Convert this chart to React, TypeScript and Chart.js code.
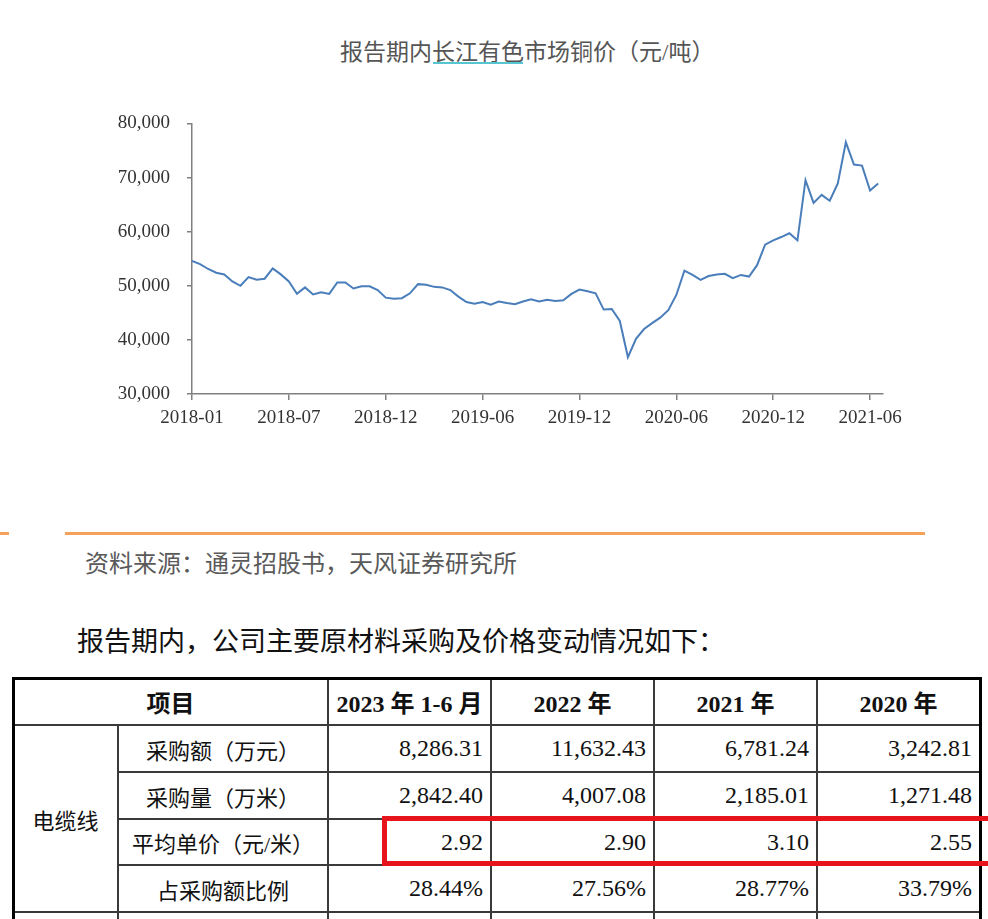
import React, { useEffect, useRef } from "react";
import { Chart, registerables } from "chart.js";

Chart.register(...registerables);

// ---------------- data ----------------
const chartTitle = "报告期内长江有色市场铜价（元/吨）";
const xTickLabels = ["2018-01", "2018-07", "2018-12", "2019-06", "2019-12", "2020-06", "2020-12", "2021-06"];
const pointsPerTick = 12;
const copperPrice = [
  54600, 54000, 53100, 52400, 52100, 50800, 50000, 51600, 51100, 51300,
  53200, 52100, 50800, 48500, 49700, 48400, 48800, 48500, 50600, 50600,
  49500, 49900, 49900, 49200, 47800, 47600, 47700, 48600, 50300, 50200,
  49800, 49700, 49200, 48000, 47000, 46700, 47000, 46500, 47100, 46800,
  46600, 47100, 47500, 47100, 47400, 47200, 47300, 48500, 49300, 49000,
  48600, 45600, 45700, 43500, 36800, 40200, 42000, 43100, 44100, 45500,
  48300, 52800, 52000, 51100, 51800, 52100, 52200, 51400, 52000, 51700,
  53800, 57600, 58400, 59000, 59700, 58400, 69500, 65300, 66800, 65700,
  68900, 76500, 72400, 72200, 67600, 68900,
];
const yMin = 30000;
const yMax = 80000;
const yStep = 10000;

const sourceText = "资料来源：通灵招股书，天风证券研究所";
const bodyText = "报告期内，公司主要原材料采购及价格变动情况如下：";

const tableHeader = ["项目", "2023 年 1-6 月", "2022 年", "2021 年", "2020 年"];
const groupLabel = "电缆线";
const rowLabels = ["采购额（万元）", "采购量（万米）", "平均单价（元/米）", "占采购额比例"];
const purchaseAmount = ["8,286.31", "11,632.43", "6,781.24", "3,242.81"];
const purchaseQty = ["2,842.40", "4,007.08", "2,185.01", "1,271.48"];
const unitPrice = ["2.92", "2.90", "3.10", "2.55"];
const shareRatio = ["28.44%", "27.56%", "28.77%", "33.79%"];

// ---------------- layout ----------------
const axisColor = "#808080";
const tickFont = { family: "'Liberation Serif', 'DejaVu Serif', serif", size: 19 };
const cjk = "'Liberation Serif', 'Noto Sans CJK SC', serif";

const colX = [13, 118, 328, 491, 654, 817, 980];
const rowY = [678, 725, 772, 819, 865, 912, 960];

function CopperChart() {
  const ref = useRef<HTMLCanvasElement | null>(null);
  useEffect(() => {
    if (!ref.current) return;
    const chart = new Chart(ref.current, {
      type: "line",
      data: {
        datasets: [
          {
            data: copperPrice.map((v, i) => ({ x: i, y: v })),
            borderColor: "#4a7ebb",
            borderWidth: 2,
            pointRadius: 0,
            tension: 0,
            fill: false,
          },
        ],
      },
      options: {
        animation: false,
        responsive: false,
        maintainAspectRatio: false,
        layout: { padding: { top: 19, right: 37, bottom: 0, left: 0 } },
        plugins: { legend: { display: false }, tooltip: { enabled: false }, title: { display: false } },
        scales: {
          x: {
            type: "linear",
            min: 0,
            max: 85.6,
            afterFit: (s: any) => {
              s.height = 41;
            },
            ticks: {
              stepSize: pointsPerTick,
              includeBounds: false,
              autoSkip: false,
              maxRotation: 0,
              padding: 7,
              color: "#333",
              font: tickFont,
              callback: (v: any) => xTickLabels[Math.round(Number(v) / pointsPerTick)] ?? "",
            },
            grid: { display: true, drawOnChartArea: false, drawTicks: true, tickLength: 6, color: axisColor, lineWidth: 1.5 },
            border: { display: true, color: axisColor, width: 1.5 },
          },
          y: {
            min: yMin,
            max: yMax,
            afterFit: (s: any) => {
              s.width = 192;
            },
            ticks: {
              stepSize: yStep,
              padding: 17,
              color: "#333",
              font: tickFont,
              callback: (v: any) => Number(v).toLocaleString("en-US"),
            },
            grid: { display: true, drawOnChartArea: false, drawTicks: true, tickLength: 5, color: axisColor, lineWidth: 1.5 },
            border: { display: true, color: axisColor, width: 1.5 },
          },
        },
      },
    } as any);
    return () => chart.destroy();
  }, []);
  return <canvas ref={ref} width={920} height={340} style={{ position: "absolute", left: 0, top: 95 }} />;
}

function Line({ x, y, w, h, c = "#333" }: { x: number; y: number; w: number; h: number; c?: string }) {
  return <div style={{ position: "absolute", left: x, top: y, width: w, height: h, background: c }} />;
}

function Cell({
  x1, x2, y1, y2, text, align = "center", bold = false, size = 24,
}: { x1: number; x2: number; y1: number; y2: number; text: string; align?: string; bold?: boolean; size?: number }) {
  return (
    <div
      style={{
        position: "absolute",
        left: x1,
        top: y1,
        width: x2 - x1,
        height: y2 - y1,
        display: "flex",
        alignItems: "center",
        justifyContent: align === "right" ? "flex-end" : "center",
        paddingRight: align === "right" ? 8 : 0,
        boxSizing: "border-box",
        fontFamily: cjk,
        fontSize: size,
        fontWeight: bold ? 700 : 400,
        color: "#111",
        whiteSpace: "nowrap",
      }}
    >
      {text}
    </div>
  );
}

function PurchaseTable() {
  const rows = [purchaseAmount, purchaseQty, unitPrice, shareRatio];
  const inner = "#3a3a3a";
  const bottom = 919;
  const els: React.ReactNode[] = [];
  // header
  els.push(<Cell key="h0" x1={colX[0]} x2={colX[2]} y1={rowY[0]} y2={rowY[1]} text={tableHeader[0]} bold />);
  for (let c = 1; c < tableHeader.length; c++) {
    els.push(<Cell key={"h" + c} x1={colX[c + 1]} x2={colX[c + 2]} y1={rowY[0]} y2={rowY[1]} text={tableHeader[c]} bold />);
  }
  els.push(<Cell key="g" x1={colX[0]} x2={colX[1]} y1={rowY[1]} y2={rowY[5]} text={groupLabel} size={22} />);
  rows.forEach((vals, r) => {
    els.push(<Cell key={"l" + r} x1={colX[1]} x2={colX[2]} y1={rowY[r + 1]} y2={rowY[r + 2]} text={rowLabels[r]} size={22} />);
    vals.forEach((v, c) => {
      els.push(
        <Cell key={"v" + r + c} x1={colX[c + 2]} x2={colX[c + 3]} y1={rowY[r + 1]} y2={rowY[r + 2]} text={v} align="right" />
      );
    });
  });
  // lines
  const lines: React.ReactNode[] = [];
  lines.push(<Line key="hl1" x={colX[0]} y={rowY[1] - 0.75} w={colX[6] - colX[0]} h={1.5} c={inner} />);
  for (let r = 2; r <= 4; r++) {
    lines.push(<Line key={"hl" + r} x={colX[1]} y={rowY[r] - 0.75} w={colX[6] - colX[1]} h={1.5} c={inner} />);
  }
  lines.push(<Line key="hl5" x={colX[0]} y={rowY[5] - 0.75} w={colX[6] - colX[0]} h={1.5} c={inner} />);
  lines.push(<Line key="vl1" x={colX[1] - 0.75} y={rowY[1]} w={1.5} h={bottom - rowY[1]} c={inner} />);
  for (let c = 2; c <= 5; c++) {
    lines.push(<Line key={"vl" + c} x={colX[c] - 0.75} y={rowY[0]} w={1.5} h={bottom - rowY[0]} c={inner} />);
  }
  // outer border
  lines.push(<Line key="top" x={colX[0] - 1.5} y={rowY[0] - 1.5} w={colX[6] - colX[0] + 3} h={3} c="#000" />);
  lines.push(<Line key="left" x={colX[0] - 1.5} y={rowY[0] - 1.5} w={3} h={bottom - rowY[0] + 2} c="#000" />);
  lines.push(<Line key="right" x={colX[6] - 1.5} y={rowY[0] - 1.5} w={3} h={bottom - rowY[0] + 2} c="#000" />);
  return (
    <>
      {lines}
      {els}
      <div
        style={{
          position: "absolute",
          left: 382,
          top: 816,
          width: 640,
          height: 50,
          border: "5px solid #e8141c",
          boxSizing: "border-box",
        }}
      />
    </>
  );
}

export default function App() {
  return (
    <div
      style={{
        position: "fixed",
        left: 0,
        top: 0,
        width: 988,
        height: 919,
        overflow: "hidden",
        background: "#fff",
      }}
    >
      <CopperChart />
      <div
        style={{
          position: "absolute",
          left: 340,
          top: 38,
          fontFamily: cjk,
          fontSize: 23,
          lineHeight: "30px",
          color: "#555",
          whiteSpace: "nowrap",
        }}
      >
        {chartTitle}
      </div>
      <Line x={433} y={62} w={90} h={2} c="#56c5d0" />
      <Line x={0} y={532} w={9} h={2.5} c="#f5a15a" />
      <Line x={65} y={532} w={860} h={2.5} c="#f5a15a" />
      <div
        style={{
          position: "absolute",
          left: 85,
          top: 547,
          fontFamily: "'Noto Sans CJK SC', sans-serif",
          fontSize: 24,
          lineHeight: "30px",
          color: "#5a5a5a",
          whiteSpace: "nowrap",
        }}
      >
        {sourceText}
      </div>
      <div
        style={{
          position: "absolute",
          left: 77,
          top: 625,
          fontFamily: cjk,
          fontSize: 27,
          lineHeight: "34px",
          color: "#111",
          whiteSpace: "nowrap",
        }}
      >
        {bodyText}
      </div>
      <PurchaseTable />
    </div>
  );
}
